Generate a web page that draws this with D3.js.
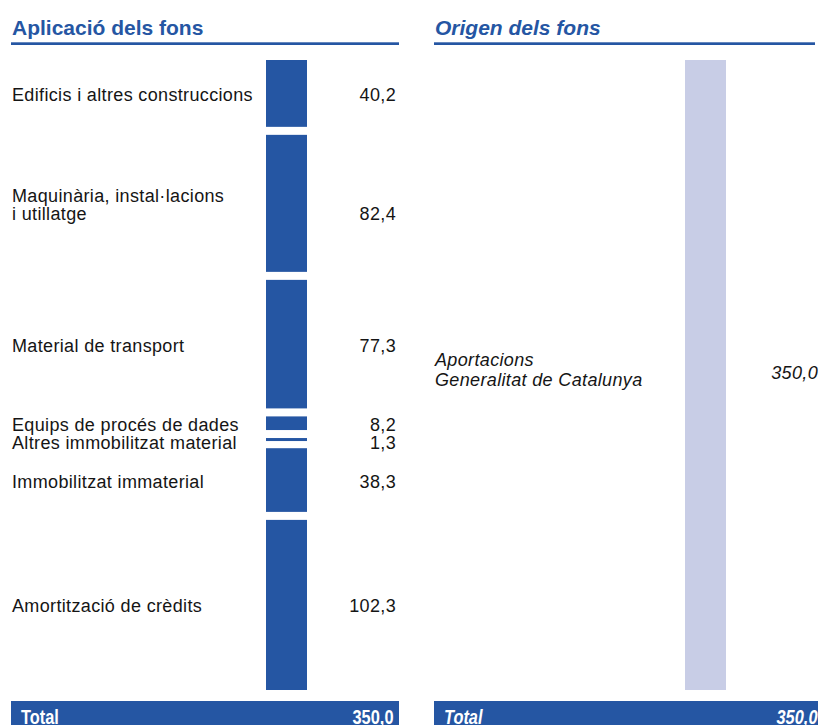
<!DOCTYPE html>
<html>
<head>
<meta charset="utf-8">
<script src="https://cdn.jsdelivr.net/npm/d3@7"></script>
<style>
  body { margin: 0; background: #fff; }
  svg { display: block; font-family: "Liberation Sans", Arial, sans-serif; }
</style>
</head>
<body>
<svg width="822" height="725"></svg>
<script>
// Aplicació dels fons (uses)
const useLabels = [
  ["Edificis i altres construccions"],
  ["Maquinària, instal·lacions", "i utillatge"],
  ["Material de transport"],
  ["Equips de procés de dades"],
  ["Altres immobilitzat material"],
  ["Immobilitzat immaterial"],
  ["Amortització de crèdits"]
];
const useValues = [40.2, 82.4, 77.3, 8.2, 1.3, 38.3, 102.3];

// Origen dels fons (sources)
const sourceLabels = [["Aportacions", "Generalitat de Catalunya"]];
const sourceValues = [350.0];

const titles = ["Aplicació dels fons", "Origen dels fons"];
const totalLabel = "Total";

const blue = "#2556a3", lilac = "#c8cde6";
const ca = d3.formatLocale({decimal: ",", thousands: ".", grouping: [3], currency: ["", " €"]});
const fmt = ca.format(".1f");

let svg = d3.select("svg");
let barTop = 60, barBottom = 690, gap = 8;

function panel(opts) {
  let g = svg.append("g");
  let n = opts.values.length;
  let total = d3.sum(opts.values);
  let y = d3.scaleLinear().domain([0, total]).range([barTop, barBottom - gap * (n - 1)]);
  let cum = d3.cumsum([0].concat(opts.values));
  let lh = opts.lineHeight;
  let rows = opts.values.map((v, i) => ({
    v: v, label: opts.labels[i],
    y0: y(cum[i]) + gap * i,
    h: y(v) - y(0)
  }));
  // first baseline of each label block, pushed down so thin bars' labels don't collide
  let prevLast = -Infinity;
  rows.forEach(d => {
    let b = d.y0 + d.h / 2 + opts.labelDy - (d.label.length - 1) * lh / 2;
    d.base = Math.max(b, prevLast + lh);
    prevLast = d.base + (d.label.length - 1) * lh;
  });
  let fstyle = opts.italic ? "italic" : "normal";

  // title + rule
  g.append("text")
    .attr("x", opts.x0 + 1).attr("y", 35)
    .attr("fill", blue).attr("font-size", 21).attr("font-weight", "bold")
    .attr("font-style", fstyle)
    .text(opts.title);
  g.append("rect")
    .attr("x", opts.x0).attr("y", 42.3).attr("width", opts.ruleX1 - opts.x0).attr("height", 2.7)
    .attr("fill", blue);

  // bars
  g.selectAll(".bar").data(rows).enter().append("rect")
    .attr("class", "bar")
    .attr("x", opts.barX).attr("width", 41)
    .attr("y", d => d.y0).attr("height", d => Math.max(d.h, 3))
    .attr("fill", opts.color);

  let labels = g.selectAll(".lab").data(rows).enter().append("text")
    .attr("class", "lab")
    .attr("font-size", 18).attr("letter-spacing", 0.35).attr("fill", "#151515")
    .attr("font-style", fstyle);
  labels.selectAll("tspan").data(d => d.label.map((t, j) => ({t: t, j: j, d: d}))).enter().append("tspan")
    .attr("x", opts.x0 + 1)
    .attr("y", o => o.d.base + o.j * lh)
    .text(o => o.t);

  g.selectAll(".val").data(rows).enter().append("text")
    .attr("class", "val")
    .attr("x", opts.valX).attr("text-anchor", "end")
    .attr("y", d => opts.valueOnLast
      ? d.base + (d.label.length - 1) * lh
      : d.y0 + d.h / 2 + 4)
    .attr("font-size", 18).attr("letter-spacing", 0.35).attr("fill", "#151515")
    .attr("font-style", fstyle)
    .text(d => fmt(d.v));

  // total band
  g.append("rect")
    .attr("x", opts.x0).attr("y", 701).attr("width", opts.x1 - opts.x0).attr("height", 30)
    .attr("fill", blue);
  g.append("text")
    .attr("transform", "translate(" + (opts.x0 + 10) + ",723.5) scale(0.82,1)")
    .attr("fill", "#fff").attr("font-size", 20).attr("font-weight", "bold")
    .attr("font-style", fstyle)
    .text(totalLabel);
  g.append("text")
    .attr("transform", "translate(" + opts.totalX + ",723.5) scale(0.82,1)")
    .attr("text-anchor", "end")
    .attr("fill", "#fff").attr("font-size", 20).attr("font-weight", "bold")
    .attr("font-style", fstyle)
    .text(fmt(total));
}

panel({title: titles[0], labels: useLabels, values: useValues, x0: 11, x1: 399, ruleX1: 399,
  barX: 266, valX: 396, totalX: 393.5, color: blue, italic: false,
  lineHeight: 18, labelDy: 7.5, valueOnLast: true});
panel({title: titles[1], labels: sourceLabels, values: sourceValues, x0: 434, x1: 818, ruleX1: 815,
  barX: 685, valX: 818, totalX: 817.5, color: lilac, italic: true,
  lineHeight: 19.5, labelDy: 1, valueOnLast: false});
</script>
</body>
</html>
